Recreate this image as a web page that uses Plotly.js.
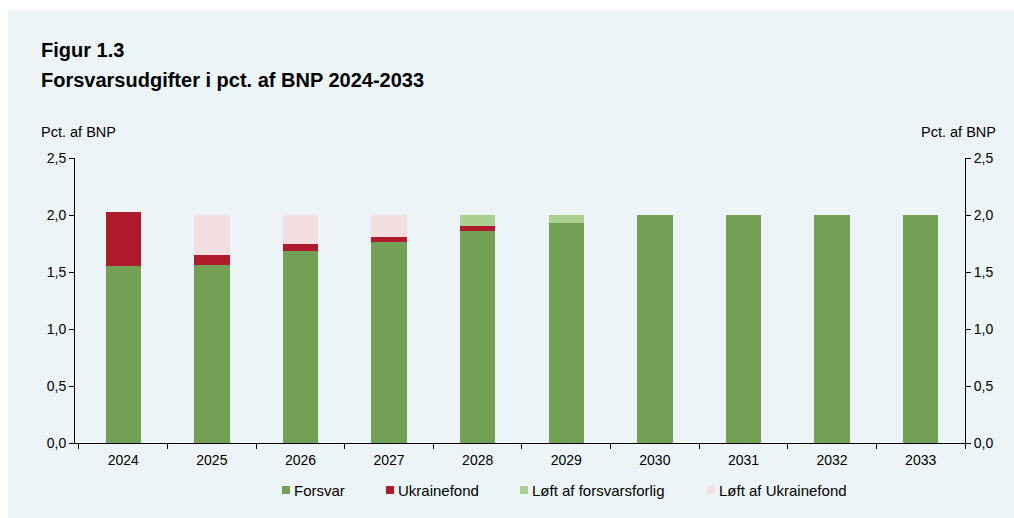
<!DOCTYPE html>
<html>
<head>
<meta charset="utf-8">
<script src="https://cdn.plot.ly/plotly-3.0.1.min.js"></script>
<style>
  html, body { margin: 0; padding: 0; background: #ffffff; width: 1014px; height: 518px; overflow: hidden; }
  #chart { position: absolute; left: 8px; top: 10px; width: 1006px; height: 508px; }
</style>
</head>
<body>
<div id="chart"></div>
<script>
const years = ["2024","2025","2026","2027","2028","2029","2030","2031","2032","2033"];
const forsvar = [1.55, 1.56, 1.68, 1.76, 1.86, 1.93, 2.00, 2.00, 2.00, 2.00];
const ukrainefond = [0.48, 0.09, 0.07, 0.05, 0.04, 0, 0, 0, 0, 0];
const loeftForsvarsforlig = [0, 0, 0, 0, 0.10, 0.07, 0, 0, 0, 0];
const loeftUkrainefond = [0, 0.35, 0.25, 0.19, 0, 0, 0, 0, 0, 0];
const seriesNames = ["Forsvar", "Ukrainefond", "Løft af forsvarsforlig", "Løft af Ukrainefond"];
const seriesColors = ["#72A055", "#AF1A2D", "#ABCF8E", "#F3DFE2"];

const font = "Liberation Sans, Arial, sans-serif";
const seriesData = [forsvar, ukrainefond, loeftForsvarsforlig, loeftUkrainefond];
const traces = seriesData.map((vals, i) => ({
  type: "bar",
  name: seriesNames[i],
  x: years,
  y: vals,
  width: 0.4,
  marker: { color: seriesColors[i], line: { width: 0 } },
  showlegend: false
}));
traces.push({
  type: "scatter", x: [years[0]], y: [0], yaxis: "y2",
  mode: "markers", marker: { opacity: 0 }, showlegend: false, hoverinfo: "skip"
});

// plot-area geometry inside the 1006x508 div (for paper conversions)
const ML = 67, MR = 49, MT = 148, MB = 75, W = 1006, H = 508;
const PW = W - ML - MR, PH = H - MT - MB;
const px2x = px => (px - 8 - ML) / PW;      // page px -> paper x
const py2y = py => (H - MB - (py - 10)) / PH; // page px -> paper y

// custom legend (small squares like the reference)
const legendStarts = [282, 386, 520, 707];
const legendY = 490;
const shapes = [];
const annotations = [
  { text: "<b>Figur 1.3</b>", x: px2x(40), y: py2y(50) },
  { text: "<b>Forsvarsudgifter i pct. af BNP 2024-2033</b>", x: px2x(40), y: py2y(80) }
].map(a => Object.assign(a, { xref: "paper", yref: "paper", xanchor: "left", yanchor: "middle",
  showarrow: false, borderpad: 0, font: { family: font, size: 20, color: "#000" } }));
annotations.push(
  { text: "Pct. af BNP", xref: "paper", yref: "paper", x: px2x(40), y: py2y(132),
    xanchor: "left", yanchor: "middle", showarrow: false, borderpad: 0, font: { family: font, size: 14.5, color: "#000" } },
  { text: "Pct. af BNP", xref: "paper", yref: "paper", x: px2x(997), y: py2y(132),
    xanchor: "right", yanchor: "middle", showarrow: false, borderpad: 0, font: { family: font, size: 14.5, color: "#000" } }
);
seriesNames.forEach((name, i) => {
  const x0 = legendStarts[i];
  shapes.push({ type: "rect", xref: "paper", yref: "paper",
    x0: px2x(x0), x1: px2x(x0 + 8), y0: py2y(legendY - 4), y1: py2y(legendY + 4),
    fillcolor: seriesColors[i], line: { width: 0 } });
  annotations.push({ text: name, xref: "paper", yref: "paper", x: px2x(x0 + 11), y: py2y(legendY),
    xanchor: "left", yanchor: "middle", showarrow: false, borderpad: 0,
    font: { family: font, size: 15, color: "#000" } });
});

const axisCommon = {
  showline: true, linecolor: "#000", linewidth: 1,
  ticks: "outside", ticklen: 5, tickcolor: "#000",
  showgrid: false, zeroline: false,
  tickfont: { family: font, size: 14, color: "#000" }
};

const layout = {
  width: W, height: H,
  barmode: "stack",
  paper_bgcolor: "#EDF4F8",
  plot_bgcolor: "rgba(0,0,0,0)",
  separators: ",.",
  font: { family: font, size: 14, color: "#000000" },
  margin: { l: ML, r: MR, t: MT, b: MB },
  showlegend: false,
  xaxis: Object.assign({}, axisCommon, { type: "category", tickson: "boundaries", ticklabelstandoff: 4 }),
  yaxis: Object.assign({}, axisCommon, { range: [0, 2.5], dtick: 0.5, tickformat: ".1f" }),
  yaxis2: Object.assign({}, axisCommon, { range: [0, 2.5], dtick: 0.5, tickformat: ".1f", overlaying: "y", side: "right" }),
  shapes: shapes,
  annotations: annotations
};

Plotly.newPlot("chart", traces, layout, { displayModeBar: false, staticPlot: true });
</script>
</body>
</html>
